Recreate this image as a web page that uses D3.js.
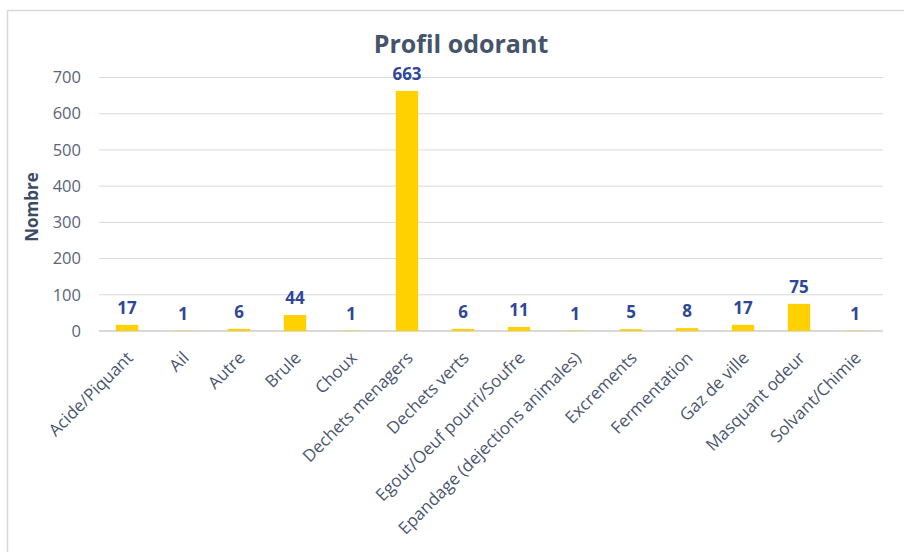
<!DOCTYPE html>
<html><head><meta charset="utf-8">
<script src="https://cdn.jsdelivr.net/npm/d3@7"></script>
<style>body{margin:0;background:#fff;}svg{display:block;font-family:"Open Sans","Noto Sans",sans-serif;}</style>
</head><body>
<script>
const categories = ["Acide/Piquant","Ail","Autre","Brule","Choux","Dechets menagers","Dechets verts","Egout/Oeuf pourri/Soufre","Epandage (dejections animales)","Excrements","Fermentation","Gaz de ville","Masquant odeur","Solvant/Chimie"];
const values = [17,1,6,44,1,663,6,11,1,5,8,17,75,1];
const yTicks = [0,100,200,300,400,500,600,700];

(function(){
const W = 904, H = 552;
const svg = d3.select("body").append("svg").attr("width", W).attr("height", H);

// border
svg.append("rect").attr("x",7.5).attr("y",10.5).attr("width",W).attr("height",H)
  .attr("fill","none").attr("stroke","#d9d9d9").attr("stroke-width",1.5);

const pl = 99, pr = 883, pt = 77.5, pb = 331;
const x = d3.scaleBand().domain(categories).range([pl,pr]).paddingInner(0.6).paddingOuter(0.3);
const y = d3.scaleLinear().domain([0,700]).range([pb, pt]);

// gridlines
svg.append("g").selectAll("line").data(yTicks).join("line")
  .attr("x1",pl).attr("x2",pr)
  .attr("y1",d=>y(d)).attr("y2",d=>y(d))
  .attr("stroke","#d9d9d9").attr("stroke-width",d=>d===0?2:1);

// y axis labels
const yAxis = d3.axisLeft(y).tickValues(yTicks).tickSize(0).tickPadding(0);
const ga = svg.append("g").attr("transform",`translate(81,0)`).call(yAxis);
ga.select(".domain").remove();
ga.selectAll("text").attr("font-size",16.5).attr("fill","#596577").attr("font-family","Open Sans");

// bars
svg.append("g").selectAll("rect").data(values).join("rect")
  .attr("x",(d,i)=>x(categories[i]))
  .attr("width",x.bandwidth())
  .attr("y",d=>y(d))
  .attr("height",d=>pb-y(d))
  .attr("fill","#FFD100");

// value labels
svg.append("g").selectAll("text").data(values).join("text")
  .attr("x",(d,i)=>x(categories[i])+x.bandwidth()/2)
  .attr("y",d=>y(d)-11)
  .attr("text-anchor","middle")
  .attr("font-size",17).attr("font-weight","bold").attr("fill","#2F4797")
  .text(d=>d);

// x labels
const xAxis = d3.axisBottom(x).tickSize(0).tickPadding(0);
const gx = svg.append("g").attr("transform",`translate(0,${pb})`).call(xAxis);
gx.select(".domain").remove();
gx.selectAll("text")
  .attr("font-size",17).attr("fill","#4A5670").attr("font-family","Open Sans")
  .attr("text-anchor","end").attr("dy",0).attr("y",0)
  .attr("transform","translate(7,28) rotate(-45)");

// y title
svg.append("text").attr("transform","translate(38,207) rotate(-90)")
  .attr("text-anchor","middle").attr("font-size",17).attr("font-weight","bold").attr("fill","#3D4B63")
  .text("Nombre");

// title
svg.append("text").attr("x",461).attr("y",53).attr("text-anchor","middle")
  .attr("font-size",25).attr("font-weight","bold").attr("fill","#44546A")
  .text("Profil odorant");
})();
</script>
</body></html>
